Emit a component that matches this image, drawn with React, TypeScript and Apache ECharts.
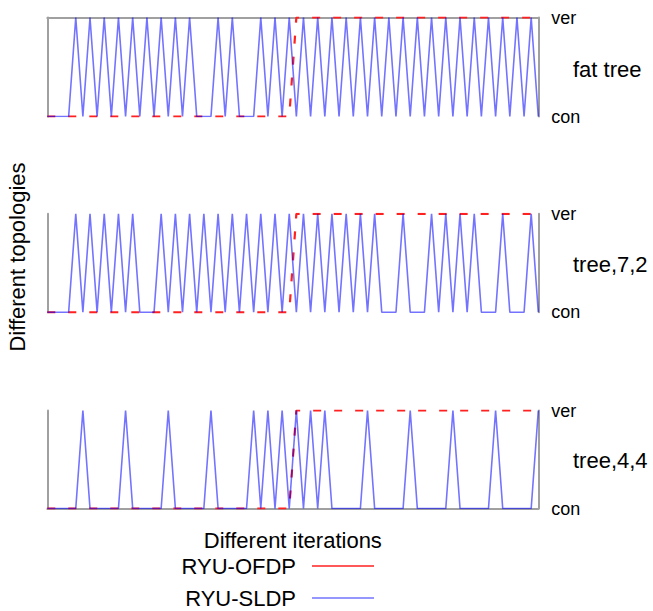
import React, { useEffect, useRef } from "react";
import * as echarts from "echarts";

// RYU-SLDP state per iteration (0 = con, 1 = ver)
const sldpFatTree = [
  0, 0, 0, 0, 1, 0, 1, 0, 1, 0,
  1, 0, 1, 0, 1, 0, 1, 0, 1, 0,
  1, 0, 0, 0, 1, 0, 1, 0, 0, 0,
  1, 0, 1, 0, 1, 0, 1, 0, 1, 0,
  1, 0, 1, 0, 1, 0, 1, 0, 1, 0,
  1, 0, 1, 0, 1, 0, 1, 0, 1, 0,
  1, 0, 1, 0, 1, 0, 1, 0, 1, 0,
];
const sldpTree72 = [
  0, 0, 0, 0, 1, 0, 1, 0, 1, 0,
  1, 0, 1, 0, 0, 0, 1, 0, 1, 0,
  1, 0, 1, 0, 1, 0, 1, 0, 1, 0,
  1, 0, 1, 0, 1, 0, 1, 0, 1, 0,
  1, 0, 1, 0, 1, 0, 1, 0, 0, 0,
  1, 0, 0, 0, 1, 0, 1, 0, 1, 0,
  1, 0, 0, 0, 1, 0, 0, 0, 1, 0,
];
const sldpTree44 = [
  0, 0, 0, 0, 0, 1, 0, 0, 0, 0,
  0, 1, 0, 0, 0, 0, 0, 1, 0, 0,
  0, 0, 0, 1, 0, 0, 0, 0, 0, 1,
  0, 1, 0, 1, 0, 1, 0, 1, 0, 1,
  0, 0, 0, 0, 0, 1, 0, 0, 0, 0,
  0, 1, 0, 0, 0, 0, 0, 1, 0, 0,
  0, 0, 0, 1, 0, 0, 0, 0, 0, 1,
];
// RYU-OFDP state per iteration
const ofdpFatTree = [
  0, 0, 0, 0, 0, 0, 0, 0, 0, 0,
  0, 0, 0, 0, 0, 0, 0, 0, 0, 0,
  0, 0, 0, 0, 0, 0, 0, 0, 0, 0,
  0, 0, 0, 0, 0, 1, 1, 1, 1, 1,
  1, 1, 1, 1, 1, 1, 1, 1, 1, 1,
  1, 1, 1, 1, 1, 1, 1, 1, 1, 1,
  1, 1, 1, 1, 1, 1, 1, 1, 1, 1,
];
const ofdpTree72 = [
  0, 0, 0, 0, 0, 0, 0, 0, 0, 0,
  0, 0, 0, 0, 0, 0, 0, 0, 0, 0,
  0, 0, 0, 0, 0, 0, 0, 0, 0, 0,
  0, 0, 0, 0, 0, 1, 1, 1, 1, 1,
  1, 1, 1, 1, 1, 1, 1, 1, 1, 1,
  1, 1, 1, 1, 1, 1, 1, 1, 1, 1,
  1, 1, 1, 1, 1, 1, 1, 1, 1, 1,
];
const ofdpTree44 = [
  0, 0, 0, 0, 0, 0, 0, 0, 0, 0,
  0, 0, 0, 0, 0, 0, 0, 0, 0, 0,
  0, 0, 0, 0, 0, 0, 0, 0, 0, 0,
  0, 0, 0, 0, 0, 1, 1, 1, 1, 1,
  1, 1, 1, 1, 1, 1, 1, 1, 1, 1,
  1, 1, 1, 1, 1, 1, 1, 1, 1, 1,
  1, 1, 1, 1, 1, 1, 1, 1, 1, 1,
];

const topologies = ["fat tree", "tree,7,2", "tree,4,4"];
const stateLabels = ["con", "ver"];
const iterations = sldpFatTree.map((_, i) => String(i + 1));
const seriesNames = ["RYU-OFDP", "RYU-SLDP"];

const sldpData = [sldpFatTree, sldpTree72, sldpTree44];
const ofdpData = [ofdpFatTree, ofdpTree72, ofdpTree44];

const FONT = "Liberation Sans";
const GRAY = "#a0a0a0";
const RED = "#ff2020";
const BLUE = "rgba(0,0,255,0.55)";

const gridTops = [17.5, 213.8, 410.5];
const gridHeights = [99, 98.5, 98];
const titleYs = [69, 264, 460];

export default function App() {
  const ref = useRef<HTMLDivElement>(null);
  useEffect(() => {
    if (!ref.current) return;
    const chart = echarts.init(ref.current, undefined, { renderer: "svg" });
    const grids = gridTops.map((top, k) => ({
      left: 47.3,
      right: 114.7,
      top,
      height: gridHeights[k],
      containLabel: false,
    }));
    const xAxes = [0, 1, 2].map((k) => ({
      type: "category",
      gridIndex: k,
      data: iterations,
      boundaryGap: false,
      position: k === 0 ? "top" : "bottom",
      axisLine: { show: k !== 1, lineStyle: { color: GRAY, width: 2 } },
      axisTick: { show: false },
      axisLabel: { show: false },
      splitLine: { show: false },
      ...(k === 2
        ? {
            name: "Different iterations",
            nameLocation: "middle",
            nameGap: 21,
            nameTextStyle: { fontSize: 22, color: "#000", fontFamily: FONT },
          }
        : {}),
    }));
    const yAxes: any[] = [];
    [0, 1, 2].forEach((k) => {
      yAxes.push({
        type: "category",
        gridIndex: k,
        data: stateLabels,
        boundaryGap: false,
        position: "right",
        axisLine: { show: true, lineStyle: { color: GRAY, width: 2 } },
        axisTick: { show: false },
        splitLine: { show: false },
        axisLabel: {
          show: true,
          color: "#000",
          fontSize: 18,
          fontFamily: FONT,
          margin: 13,
          padding: [0, 0, 5, 0],
        },
      });
      yAxes.push({
        type: "category",
        gridIndex: k,
        data: stateLabels,
        boundaryGap: false,
        position: "left",
        axisLine: { show: true, lineStyle: { color: GRAY, width: 2 } },
        axisTick: { show: false },
        splitLine: { show: false },
        axisLabel: { show: false },
      });
    });
    const series: any[] = [];
    [0, 1, 2].forEach((k) => {
      series.push({
        name: seriesNames[0],
        type: "line",
        xAxisIndex: k,
        yAxisIndex: k * 2,
        data: ofdpData[k],
        symbol: "none",
        color: RED,
        lineStyle: { color: RED, width: 2.2, type: [8, 13] },
        z: 2,
      });
      series.push({
        name: seriesNames[1],
        type: "line",
        xAxisIndex: k,
        yAxisIndex: k * 2,
        data: sldpData[k],
        symbol: "none",
        color: BLUE,
        lineStyle: { color: BLUE, width: 1.6 },
        z: 3,
      });
    });
    const legendCommon = {
      orient: "vertical",
      align: "right",
      right: 279,
      padding: 0,
      icon: "rect",
      itemWidth: 62,
      itemHeight: 1.6,
      selectedMode: false,
      textStyle: {
        fontSize: 22,
        color: "#000",
        fontFamily: FONT,
        padding: [0, 11, 0, 0],
      },
    };
    chart.setOption({
      animation: false,
      textStyle: { fontFamily: FONT },
      grid: grids,
      xAxis: xAxes,
      yAxis: yAxes,
      series,
      legend: [
        { ...legendCommon, top: 555, data: [seriesNames[0]] },
        { ...legendCommon, top: 587, data: [seriesNames[1]] },
      ],
      graphic: [
        ...topologies.map((t, k) => ({
          type: "text",
          x: 573,
          y: titleYs[k],
          style: {
            text: t,
            font: `22px "${FONT}"`,
            fill: "#000",
            textAlign: "left",
            textVerticalAlign: "middle",
          },
        })),
        {
          type: "text",
          x: 17,
          y: 257,
          rotation: Math.PI / 2,
          style: {
            text: "Different topologies",
            font: `22px "${FONT}"`,
            fill: "#000",
            textAlign: "center",
            textVerticalAlign: "middle",
          },
        },
      ],
    });
    return () => chart.dispose();
  }, []);
  return (
    <div
      ref={ref}
      style={{ position: "absolute", left: 0, top: 0, width: 653, height: 611 }}
    />
  );
}
